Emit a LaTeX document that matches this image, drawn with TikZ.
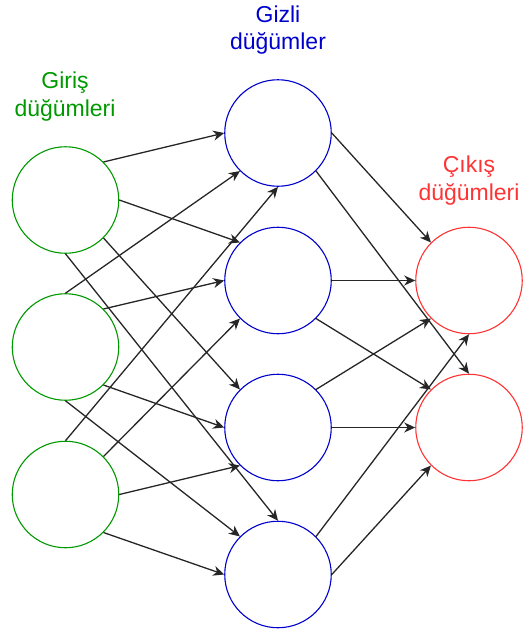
\documentclass[tikz,border=0pt]{standalone}
\usepackage{fontspec}
\setmainfont{Liberation Sans}
\usetikzlibrary{arrows.meta}
\definecolor{ingreen}{RGB}{0,153,0}
\definecolor{hidblue}{RGB}{0,0,204}
\definecolor{outred}{RGB}{255,51,51}
\tikzset{
  neuron/.style={circle, draw, line width=1.1pt, minimum size=106.5pt, inner sep=0pt, fill=white},
  innode/.style={neuron, draw=ingreen},
  hidnode/.style={neuron, draw=hidblue},
  outnode/.style={neuron, draw=outred},
  link/.style={draw=black!85, line width=1.3pt, -{Stealth[length=11pt, width=10pt, inset=3.5pt]}},
  title/.style={anchor=base, inner sep=0pt, font=\fontsize{23}{28}\selectfont},
}
\begin{document}
\begin{tikzpicture}[x=1pt, y=-1pt]
  \useasboundingbox (0,0) rectangle (525,637);

  % layer titles
  \node[title, text=ingreen] (inTitleA) at (65,88) {Giriş};
  \node[title, text=ingreen] (inTitleB) at (65,116) {düğümleri};
  \node[title, text=hidblue] (hidTitleA) at (278,22) {Gizli};
  \node[title, text=hidblue] (hidTitleB) at (278,49.5) {düğümler};
  \node[title, text=outred] (outTitleA) at (469,172.5) {Çıkış};
  \node[title, text=outred] (outTitleB) at (469,200) {düğümleri};

  % input layer
  \node[innode] (i1) at (65.5,200) {};
  \node[innode] (i2) at (65.5,347) {};
  \node[innode] (i3) at (65.5,494.5) {};

  % hidden layer
  \node[hidnode] (h1) at (278,133) {};
  \node[hidnode] (h2) at (278,280.5) {};
  \node[hidnode] (h3) at (278,427.5) {};
  \node[hidnode] (h4) at (278,574.5) {};

  % output layer
  \node[outnode] (o1) at (469,280.5) {};
  \node[outnode] (o2) at (469,427.5) {};

  % input -> hidden
  \draw[link] (i1.north east) -- (h1.west);
  \draw[link] (i1.east) -- (h2.north west);
  \draw[link] (i1.south east) -- (h3.north west);
  \draw[link] (i1.south) -- (h4.north);

  \draw[link] (i2.north) -- (h1.south west);
  \draw[link] (i2.north east) -- (h2.west);
  \draw[link] (i2.south east) -- (h3.west);
  \draw[link] (i2.south) -- (h4.north west);

  \draw[link] (i3.north) -- (h1.south);
  \draw[link] (i3.north east) -- (h2.south west);
  \draw[link] (i3.east) -- (h3.south west);
  \draw[link] (i3.south east) -- (h4.west);

  % hidden -> output
  \draw[link] (h1.east) -- (o1.north west);
  \draw[link] (h1.south east) -- (o2.north);
  \draw[link] (h2.east) -- (o1.west);
  \draw[link] (h2.south east) -- (o2.north west);
  \draw[link] (h3.north east) -- (o1.south west);
  \draw[link] (h3.east) -- (o2.west);
  \draw[link] (h4.north east) -- (o1.south);
  \draw[link] (h4.east) -- (o2.south west);
\end{tikzpicture}
\end{document}
